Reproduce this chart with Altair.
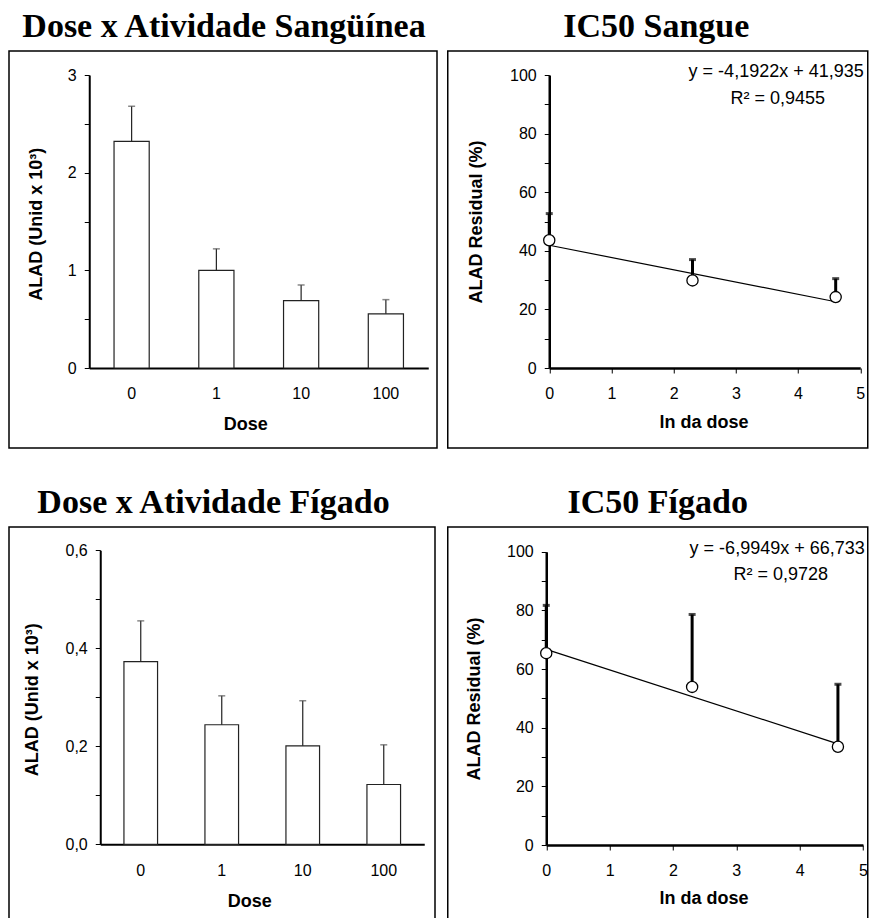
import altair as alt
import pandas as pd

SANS = "Liberation Sans"
SERIF = "Liberation Serif"

# ---------------- data ----------------
doses = ["0", "1", "10", "100"]
blood_mean = [2.32, 1.00, 0.69, 0.555]
blood_upper = [2.68, 1.22, 0.85, 0.70]
liver_mean = [0.373, 0.244, 0.201, 0.122]
liver_upper = [0.456, 0.303, 0.293, 0.203]

ln_dose = [0.0, 2.303, 4.605]
blood_resid = [43.6, 29.9, 24.2]
blood_resid_upper = [52.7, 37.0, 30.5]
liver_resid = [65.4, 53.9, 33.5]
liver_resid_upper = [81.7, 78.6, 54.8]

fit_x = [0.0, 4.605]
blood_fit_y = [41.9, 22.6]
liver_fit_y = [66.7, 34.5]

blood_eq = ["y = -4,1922x + 41,935", "R² = 0,9455"]
liver_eq = ["y = -6,9949x + 66,733", "R² = 0,9728"]

blood_ticks = [0, 0.5, 1, 1.5, 2, 2.5, 3]
liver_ticks = [0, 0.1, 0.2, 0.3, 0.4, 0.5, 0.6]
resid_ticks = [0, 10, 20, 30, 40, 50, 60, 70, 80, 90, 100]
ln_ticks = [0, 1, 2, 3, 4, 5]


def make_title(text, dx):
    return alt.TitleParams(text=text, font=SERIF, fontSize=34, fontWeight="bold",
                           color="black", anchor="middle", baseline="alphabetic",
                           offset=-19.5, dx=dx)


def bar_panel(title, mean, upper, ydomain, yticks, ylabel_expr, W, H, xr, yr,
              title_dx, ytx, yty, xtx, xty, xlabpad, ylabpad):
    df = pd.DataFrame({"dose": doses, "mean": mean, "upper": upper})
    xenc = alt.X("dose:N", sort=doses, title="Dose",
                 scale=alt.Scale(range=xr, paddingInner=0.585, paddingOuter=0.2925),
                 axis=alt.Axis(labelAngle=0, ticks=False, tickSize=0, offset=yr[0] - H,
                               labelPadding=xlabpad, domainWidth=2, grid=False,
                               titleX=xtx, titleY=xty, titleBaseline="alphabetic",
                               titleAlign="center"))

    def yenc(field):
        return alt.Y(field + ":Q", title="ALAD (Unid x 10³)",
                     scale=alt.Scale(domain=ydomain, range=yr, nice=False, zero=True),
                     axis=alt.Axis(values=yticks, labelExpr=ylabel_expr, tickSize=5,
                                   labelPadding=ylabpad, offset=-xr[0], domainWidth=2,
                                   labelOverlap=False, labelFlush=False, grid=False,
                                   titleAngle=270, titleX=ytx, titleY=yty,
                                   titleBaseline="alphabetic", titleAlign="center"))

    base = alt.Chart(df)
    bars = base.mark_bar(fill="white", stroke="#222222", strokeWidth=1.2).encode(x=xenc, y=yenc("mean"))
    err = base.mark_rule(color="#222222", strokeWidth=1.2).encode(x=xenc, y=yenc("mean"), y2="upper:Q")
    cap = base.mark_tick(color="#555555", size=7, thickness=1.5, orient="horizontal").encode(
        x=xenc, y=yenc("upper"))
    return alt.layer(bars, err, cap).properties(width=W, height=H, title=make_title(title, title_dx))


def scatter_panel(title, resid, upper, fit_y, eq, W, H, xr, yr, title_dx,
                  ytx, yty, xtx, xty, eq_pos, r2_pos):
    pts = pd.DataFrame({"lnd": ln_dose, "resid": resid, "upper": upper})
    fit = pd.DataFrame({"lnd": fit_x, "resid": fit_y})

    xenc = alt.X("lnd:Q", title="ln da dose",
                 scale=alt.Scale(domain=[0, 5], range=xr, nice=False, zero=True),
                 axis=alt.Axis(values=ln_ticks, format="d", tickSize=5, labelPadding=12,
                               offset=yr[0] - H, domainWidth=2.5, labelFlush=False,
                               labelOverlap=False, grid=False,
                               titleX=xtx, titleY=xty, titleBaseline="alphabetic",
                               titleAlign="center"))

    def yenc(field):
        return alt.Y(field + ":Q", title="ALAD Residual (%)",
                     scale=alt.Scale(domain=[0, 100], range=yr, nice=False, zero=True),
                     axis=alt.Axis(values=resid_ticks,
                                   labelExpr="datum.value % 20 == 0 ? format(datum.value, 'd') : ''",
                                   tickSize=5, labelPadding=8, offset=-xr[0], domainWidth=2.5,
                                   labelOverlap=False, labelFlush=False, grid=False,
                                   titleAngle=270, titleX=ytx, titleY=yty,
                                   titleBaseline="alphabetic", titleAlign="center"))

    line = alt.Chart(fit).mark_line(color="black", strokeWidth=1.2).encode(x=xenc, y=yenc("resid"))
    err = alt.Chart(pts).mark_rule(color="black", strokeWidth=3).encode(
        x=xenc, y=yenc("resid"), y2="upper:Q")
    cap = alt.Chart(pts).mark_tick(color="black", size=7, thickness=3, orient="horizontal").encode(
        x=xenc, y=yenc("upper"))
    dots = alt.Chart(pts).mark_point(shape="circle", filled=True, fill="white", stroke="black",
                                     strokeWidth=1.3, size=125, opacity=1).encode(
        x=xenc, y=yenc("resid"))
    eq_df = pd.DataFrame({"t": [eq[0]]})
    r2_df = pd.DataFrame({"t": [eq[1]]})
    eq_txt = alt.Chart(eq_df).mark_text(font=SANS, fontSize=18, color="black", align="right",
                                         baseline="alphabetic").encode(
        x=alt.value(eq_pos[0]), y=alt.value(eq_pos[1]), text="t:N")
    r2_txt = alt.Chart(r2_df).mark_text(font=SANS, fontSize=18, color="black", align="center",
                                         baseline="alphabetic").encode(
        x=alt.value(r2_pos[0]), y=alt.value(r2_pos[1]), text="t:N")
    return alt.layer(line, err, cap, dots, eq_txt, r2_txt).properties(
        width=W, height=H, title=make_title(title, title_dx))


tl = bar_panel("Dose x Atividade Sangüínea", blood_mean, blood_upper, [0, 3], blood_ticks,
               "round(datum.value * 2) % 2 == 0 ? format(datum.value, 'd') : ''",
               W=428, H=397, xr=[80.25, 419.25], yr=[317, 24], title_dx=1,
               ytx=-47.3, yty=172.7, xtx=236.25, xty=61.3, xlabpad=17, ylabpad=8)

tr = scatter_panel("IC50 Sangue", blood_resid, blood_resid_upper, blood_fit_y, blood_eq,
                   W=420, H=397, xr=[101.5, 412.5], yr=[317, 24], title_dx=-1.5,
                   ytx=-67.3, yty=170.5, xtx=255.8, xty=59, eq_pos=[416, 26], r2_pos=[330, 53.3])

bl = bar_panel("Dose x Atividade Fígado", liver_mean, liver_upper, [0, 0.6], liver_ticks,
               "round(datum.value * 10) % 2 == 0 ? replace(format(datum.value, '.1f'), '.', ',') : ''",
               W=426, H=399, xr=[91.25, 415.25], yr=[317.3, 23.3], title_dx=-8.5,
               ytx=-62.7, yty=172.3, xtx=240.25, xty=61.7, xlabpad=18.5, ylabpad=8)

br = scatter_panel("IC50 Fígado", liver_resid, liver_resid_upper, liver_fit_y, liver_eq,
                   W=420, H=399, xr=[98.5, 415.2], yr=[318, 24.7], title_dx=0,
                   ytx=-66.7, yty=171.5, xtx=255.8, xty=58.7, eq_pos=[417, 26.7], r2_pos=[333, 53])

chart = alt.concat(tl, tr, bl, br, columns=2, spacing={"row": 79, "column": 10.75},
                   bounds="flush").properties(
    padding={"left": 0, "top": 0, "right": 0, "bottom": 0},
    background="white"
).configure_view(stroke="black", strokeWidth=1.5).configure_axis(
    labelFont=SANS, titleFont=SANS, labelFontSize=16, titleFontSize=18, titleFontWeight="bold",
    labelColor="black", titleColor="black", domainColor="black", tickColor="black",
    grid=False
)

chart.save("out.html", embed_options={"renderer": "svg", "actions": False})
